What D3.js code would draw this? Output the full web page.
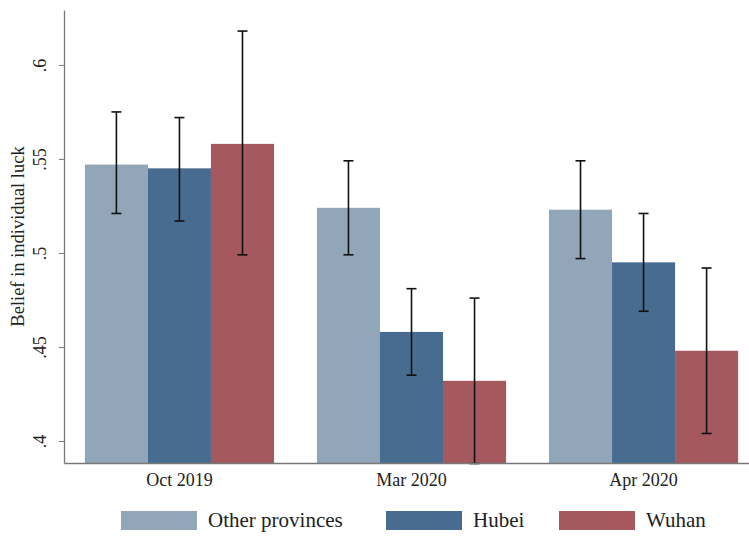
<!DOCTYPE html>
<html>
<head>
<meta charset="utf-8">
<script src="https://cdn.jsdelivr.net/npm/d3@7"></script>
<style>
  body { margin: 0; background: #fff; }
  text { font-family: "Liberation Serif", "DejaVu Serif", serif; fill: #222; }
</style>
</head>
<body>
<div class="chart"></div>
<script>
// Chart data
var periods = ["Oct 2019", "Mar 2020", "Apr 2020"];
var groups = ["Other provinces", "Hubei", "Wuhan"];
var colors = ["#92a6ba", "#486c8f", "#a6585f"];

var meanOther = [0.547, 0.524, 0.523];
var meanHubei = [0.545, 0.458, 0.495];
var meanWuhan = [0.558, 0.432, 0.448];

var lowOther = [0.521, 0.499, 0.497];
var highOther = [0.575, 0.549, 0.549];
var lowHubei = [0.517, 0.435, 0.469];
var highHubei = [0.572, 0.481, 0.521];
var lowWuhan = [0.499, 0.388, 0.404];
var highWuhan = [0.618, 0.476, 0.492];

var yTicks = [0.4, 0.45, 0.5, 0.55, 0.6];

// Chart params
var svgWidth = 749;
var svgHeight = 536;
var margin = { top: 10, right: 0, bottom: 73, left: 64 };
var width = svgWidth - margin.left - margin.right;
var height = svgHeight - margin.top - margin.bottom;

var svg = d3.select(".chart")
  .append("svg")
  .attr("width", svgWidth)
  .attr("height", svgHeight);

var chartGroup = svg.append("g")
  .attr("transform", `translate(${margin.left}, ${margin.top})`);

// build rows from the arrays
var means = [meanOther, meanHubei, meanWuhan];
var lows = [lowOther, lowHubei, lowWuhan];
var highs = [highOther, highHubei, highWuhan];
var rows = [];
periods.forEach(function(p, i) {
  groups.forEach(function(g, j) {
    rows.push({ period: p, group: g, gi: j, mean: means[j][i], low: lows[j][i], high: highs[j][i] });
  });
});

// Scales
var x0 = d3.scaleBand()
  .domain(periods)
  .range([0, width + 10])
  .paddingInner(0.185)
  .paddingOuter(0.09);

var x1 = d3.scaleBand()
  .domain(groups)
  .range([0, x0.bandwidth()]);

var yScale = d3.scaleLinear()
  .domain([0.3883, 0.6292])
  .range([height, 0]);

// Bars
chartGroup.selectAll(".bar")
  .data(rows)
  .enter()
  .append("rect")
  .attr("class", "bar")
  .attr("x", d => x0(d.period) + x1(d.group))
  .attr("y", d => yScale(d.mean))
  .attr("width", x1.bandwidth())
  .attr("height", d => height - yScale(d.mean))
  .attr("fill", d => colors[d.gi]);

// Error bars
var capW = 5;
var cx = d => x0(d.period) + x1(d.group) + x1.bandwidth() / 2;
var err = chartGroup.selectAll(".err")
  .data(rows)
  .enter()
  .append("g")
  .attr("class", "err")
  .attr("stroke", "#111")
  .attr("stroke-width", 1.6);

err.append("line")
  .attr("x1", cx)
  .attr("x2", cx)
  .attr("y1", d => yScale(d.low))
  .attr("y2", d => yScale(d.high));

err.append("line")
  .attr("x1", d => cx(d) - capW)
  .attr("x2", d => cx(d) + capW)
  .attr("y1", d => yScale(d.high))
  .attr("y2", d => yScale(d.high));

err.append("line")
  .attr("x1", d => cx(d) - capW)
  .attr("x2", d => cx(d) + capW)
  .attr("y1", d => yScale(d.low))
  .attr("y2", d => yScale(d.low));

// Axes
var leftAxis = d3.axisLeft(yScale)
  .tickValues(yTicks)
  .tickFormat(d => d3.format(".2~f")(d).replace(/^0/, ""))
  .tickSize(5)
  .tickSizeOuter(0);

var yAxisG = chartGroup.append("g").call(leftAxis);
yAxisG.select(".domain").attr("stroke", "#777").attr("stroke-width", 1.3);
yAxisG.selectAll(".tick line").attr("stroke", "#777");
yAxisG.selectAll(".tick text")
  .attr("font-size", 18)
  .attr("font-family", "Liberation Serif")
  .attr("x", 0)
  .attr("dy", 0)
  .attr("text-anchor", "middle")
  .attr("transform", "translate(-18, 0) rotate(-90)");

var bottomAxis = d3.axisBottom(x0).tickSize(0).tickSizeOuter(0);
var xAxisG = chartGroup.append("g")
  .attr("transform", `translate(0, ${height})`)
  .call(bottomAxis);
xAxisG.select(".domain").attr("stroke", "#777").attr("stroke-width", 1.3);
xAxisG.selectAll(".tick text")
  .attr("font-size", 18)
  .attr("font-family", "Liberation Serif")
  .attr("y", 0)
  .attr("dy", 23);

// Y axis title
svg.append("text")
  .attr("transform", `translate(24, ${margin.top + height / 2}) rotate(-90)`)
  .attr("text-anchor", "middle")
  .attr("font-size", 18.5)
  .text("Belief in individual luck");

// Legend
var legendX = [121, 386, 559];
var legend = svg.selectAll(".legend")
  .data(groups)
  .enter()
  .append("g")
  .attr("class", "legend")
  .attr("transform", (d, i) => `translate(${legendX[i]}, 511)`);

legend.append("rect")
  .attr("width", 76)
  .attr("height", 19)
  .attr("fill", (d, i) => colors[i]);

legend.append("text")
  .attr("x", 87)
  .attr("y", 16)
  .attr("font-size", 21)
  .text(d => d);
</script>
</body>
</html>
